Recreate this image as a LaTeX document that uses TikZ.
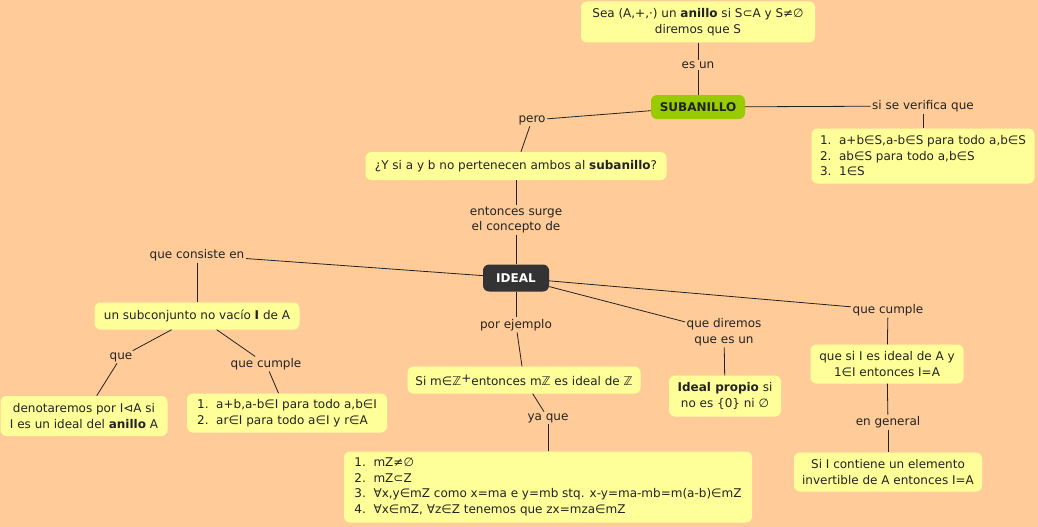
\documentclass[tikz,border=0pt]{standalone}
\usepackage{fontspec}
\setmainfont{DejaVu Sans}
\usetikzlibrary{positioning}
\definecolor{peach}{HTML}{FFCC99}
\definecolor{pale}{HTML}{FFFF99}
\definecolor{leaf}{HTML}{99CC00}
\definecolor{slate}{HTML}{333333}
\definecolor{ink}{HTML}{222222}

\begin{document}
\begin{tikzpicture}[x=1pt, y=-1pt,
  every node/.style={text=ink, font=\fontsize{12}{15.5}\selectfont},
  concept/.style={fill=pale, rounded corners=6pt, inner sep=3pt, align=center},
  keyword/.style={rounded corners=6pt, inner sep=3pt, font=\fontsize{12}{15.5}\selectfont\bfseries},
  linkword/.style={inner sep=1.5pt, align=center},
  link/.style={draw=ink, line width=0.8pt}]
% background and frame
\fill[peach] (0,0) rectangle (1038,527);
\useasboundingbox (0,0) rectangle (1038,527);

% upper part: subanillo
\node[concept, minimum width=234pt, minimum height=41pt] (top) at (698,22)
  {Sea (A,+,·) un \textbf{anillo} si S⊂A y S≠∅\\diremos que S};
\node[linkword] (esun) at (698,65) {es un};
\node[keyword, fill=leaf, minimum width=94pt, minimum height=24pt] (sub) at (698,107) {SUBANILLO};
\node[linkword] (verif) at (923,106) {si se verifica que};
\node[concept, align=left, minimum width=223pt, minimum height=55pt] (cond) at (923,156)
  {1.\ \ a+b∈S,a-b∈S para todo a,b∈S\\2.\ \ ab∈S para todo a,b∈S\\3.\ \ 1∈S};
\node[linkword] (pero) at (532,120) {pero};
\node[concept, minimum width=301pt, minimum height=28pt] (quest) at (516,166)
  {¿Y si a y b no pertenecen ambos al \textbf{subanillo}?};
\node[linkword] (surge) at (516,220) {entonces surge\\el concepto de};

% ideal
\node[keyword, fill=slate, text=white, minimum width=66pt, minimum height=27pt] (ideal) at (516,278) {IDEAL};

% left branch
\node[linkword] (consiste) at (197,255) {que consiste en};
\node[concept, minimum width=205pt, minimum height=27pt] (subc) at (197,316)
  {un subconjunto no vacío \textbf{I} de A};
\node[linkword] (que) at (121,357) {que};
\node[linkword] (cumpleA) at (266,364) {que cumple};
\node[concept, minimum width=167pt, minimum height=40pt] (denot) at (84,416)
  {denotaremos por I⊲A si\\I es un ideal del \textbf{anillo} A};
\node[concept, align=left, minimum width=200pt, minimum height=39pt] (propA) at (287,413)
  {1.\ \ a+b,a-b∈I para todo a,b∈I\\2.\ \ ar∈I para todo a∈I y r∈A};

% middle branch
\node[linkword] (ejemplo) at (516,325) {por ejemplo};
\node[concept, minimum width=233pt, minimum height=27pt] (multi) at (524,380)
  {Si m∈ℤ\raisebox{0.45ex}{+}entonces mℤ es ideal de ℤ};
\node[linkword] (yaque) at (548,418) {ya que};
\node[concept, align=left, minimum width=408pt, minimum height=71pt] (proof) at (548,487)
  {1.\ \ mZ≠∅\\2.\ \ mZ⊂Z\\3.\ \ ∀x,y∈mZ como x=ma e y=mb stq. x-y=ma-mb=m(a-b)∈mZ\\4.\ \ ∀x∈mZ, ∀z∈Z tenemos que zx=mza∈mZ};
\node[linkword] (diremos) at (724,332) {que diremos\\que es un};
\node[concept, minimum width=112pt, minimum height=41pt] (propio) at (725,396)
  {\textbf{Ideal propio} si\\no es \{0\} ni ∅};

% right branch
\node[linkword] (cumpleB) at (888,310) {que cumple};
\node[concept, minimum width=153pt, minimum height=39pt] (unidad) at (887,364)
  {que si I es ideal de A y\\ 1∈I entonces I=A};
\node[linkword] (general) at (888,422) {en general};
\node[concept, minimum width=188pt, minimum height=39pt] (invert) at (888,472)
  {Si I contiene un elemento\\invertible de A entonces I=A};

% connectors
\foreach \a/\b in {top/esun, esun/sub, sub/verif, verif/cond, sub/pero, pero/quest,
    quest/surge, surge/ideal, ideal/consiste, consiste/subc, subc/que, que/denot,
    subc/cumpleA, cumpleA/propA, ideal/ejemplo, ejemplo/multi, multi/yaque, yaque/proof,
    ideal/diremos, diremos/propio, ideal/cumpleB, cumpleB/unidad, unidad/general, general/invert}
  \draw[link] (\a) -- (\b);
\end{tikzpicture}
\end{document}
